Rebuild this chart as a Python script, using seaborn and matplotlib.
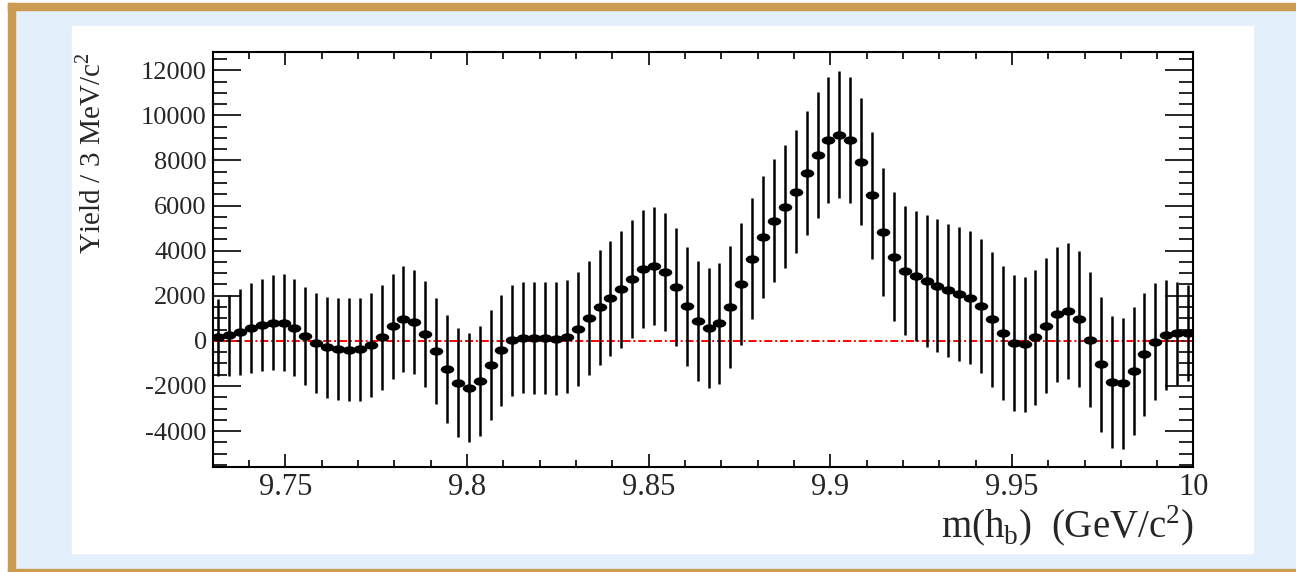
import numpy as np
import pandas as pd
import matplotlib
matplotlib.use('Agg')
import matplotlib.pyplot as plt
import seaborn as sns
from matplotlib.path import Path
from matplotlib.patches import Rectangle
from matplotlib.ticker import MultipleLocator

# 3 MeV bins starting at 9.73 GeV
mass_lo = 9.73
bin_width = 0.003

yields = [160, 240, 390, 560, 710, 810, 810, 580, 220, -100,
          -280, -360, -390, -370, -190, 160, 640, 960, 830, 300,
          -440, -1240, -1860, -2070, -1780, -1080, -410, 20, 130, 130,
          120, 100, 190, 520, 1010, 1480, 1880, 2280, 2740, 3200,
          3330, 3060, 2380, 1540, 860, 590, 780, 1500, 2520, 3640,
          4620, 5330, 5940, 6620, 7430, 8240, 8900, 9150, 8900, 7950,
          6450, 4810, 3730, 3120, 2890, 2650, 2440, 2250, 2070, 1920,
          1550, 950, 340, -90, -150, 160, 670, 1180, 1330, 960,
          60, -1040, -1820, -1890, -1350, -590, -40, 240, 330, 340]

errors = [1700, 1810, 1910, 1990, 2050, 2110, 2150, 2160, 2180, 2210,
          2240, 2260, 2280, 2280, 2310, 2320, 2310, 2350, 2320, 2350,
          2350, 2390, 2410, 2430, 2440, 2440, 2460, 2470, 2460, 2480,
          2490, 2510, 2520, 2540, 2530, 2540, 2570, 2580, 2600, 2610,
          2620, 2620, 2630, 2640, 2660, 2660, 2690, 2700, 2710, 2690,
          2710, 2720, 2730, 2740, 2750, 2780, 2780, 2800, 2800, 2800,
          2800, 2840, 2850, 2860, 2890, 2920, 2950, 2950, 2960, 2950,
          2960, 2980, 2980, 3000, 3000, 3000, 3000, 3000, 3000, 3010,
          3000, 2980, 2940, 2900, 2840, 2720, 2590, 2440, 2280, 2120]

x_ticks = [9.75, 9.8, 9.85, 9.9, 9.95, 10.0]
x_tick_labels = ['9.75', '9.8', '9.85', '9.9', '9.95', '10']
y_ticks = [-4000, -2000, 0, 2000, 4000, 6000, 8000, 10000, 12000]
y_tick_labels = ['-4000', '-2000', '0', '2000', '4000', '6000', '8000', '10000', '12000']

mass = mass_lo + bin_width * (np.arange(len(yields)) + 0.5)
df = pd.DataFrame({'mass': mass, 'yield': yields, 'err': errors})

sns.set_theme(style='ticks')
plt.rcParams['font.family'] = ['Liberation Serif', 'DejaVu Serif']
plt.rcParams['mathtext.fontset'] = 'custom'
plt.rcParams['mathtext.rm'] = 'Liberation Serif'
plt.rcParams['axes.unicode_minus'] = False

W, H = 1296, 572
fig = plt.figure(figsize=(W / 100, H / 100), dpi=100)
fig.patch.set_facecolor('#E3F0FB')

# slide-like frame: white outer strip, tan border (top/left/bottom), white panel
tan = '#CC9A50'
fig.patches.append(Rectangle((0, 1 - 3 / H), 1.01, 0.01, transform=fig.transFigure,
                             color='white', zorder=-3))
fig.patches.append(Rectangle((0, -0.01), 8 / W, 1.02, transform=fig.transFigure,
                             color='white', zorder=-3))
fig.patches.append(Rectangle((8 / W, 1 - 10 / H), 1.01, 7 / H, transform=fig.transFigure,
                             color=tan, zorder=-2))
fig.patches.append(Rectangle((8 / W, -0.01), 7 / W, 1.01 - 3 / H, transform=fig.transFigure,
                             color=tan, zorder=-2))
fig.patches.append(Rectangle((8 / W, -0.01), 1.01, 0.01 + 3 / H, transform=fig.transFigure,
                             color=tan, zorder=-2))
fig.patches.append(Rectangle((71.7 / W, 19.3 / H), 1181 / W, 527 / H, transform=fig.transFigure,
                             color='white', zorder=-1))

ax = fig.add_axes([212.7 / W, 105.3 / H, 980.8 / W, 414.5 / H])
ax.set_facecolor('white')

ax.axhline(0, color='#FF0000', lw=1.4, ls=(0, (4.1, 1.5, 1.0, 1.5)), zorder=1)
ax.errorbar(df['mass'], df['yield'], yerr=df['err'], fmt='none',
            ecolor='black', elinewidth=1.8, capsize=0, zorder=2)

circ = Path.unit_circle()
ellipse = Path(circ.vertices * np.array([1.0, 0.62]), circ.codes)
sns.scatterplot(data=df, x='mass', y='yield', marker=ellipse, s=95,
                color='black', linewidth=0, ax=ax, zorder=3)

ax.set_xlim(9.73, 10.0)
ax.set_ylim(-5580, 12800)
ax.set_xticks(x_ticks)
ax.set_xticklabels(x_tick_labels)
ax.set_yticks(y_ticks)
ax.set_yticklabels(y_tick_labels)
ax.xaxis.set_minor_locator(MultipleLocator(0.01))
ax.yaxis.set_minor_locator(MultipleLocator(500))

ax.tick_params(which='both', direction='in', top=True, right=True, color='black', width=1.2)
ax.tick_params(axis='x', which='major', length=9.4, labelsize=22, pad=4.5)
ax.tick_params(axis='x', which='minor', length=4.7)
ax.tick_params(axis='y', which='major', length=20, labelsize=19, pad=4.3)
ax.tick_params(axis='y', which='minor', length=10)
for sp in ax.spines.values():
    sp.set_linewidth(1.5)
    sp.set_color('black')

ax.set_ylabel(r'Yield / 3 MeV/c$^\mathrm{2}$', fontsize=21, loc='top')
ax.yaxis.set_label_coords(-0.108, 1.0)
ax.set_xlabel(r'm(h$_\mathrm{b}$)  (GeV/c$^\mathrm{2}$)', fontsize=28, loc='right')
ax.xaxis.set_label_coords(1.0, -0.09)

fig.savefig('out.png', dpi=100, facecolor=fig.get_facecolor())
